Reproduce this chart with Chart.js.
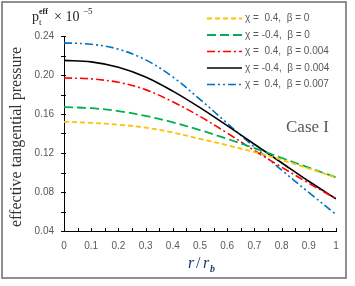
<!DOCTYPE html>
<html>
<head>
<meta charset="utf-8">
<script src="https://cdn.jsdelivr.net/npm/chart.js@4.4.1/dist/chart.umd.min.js"></script>
<style>
  html, body { margin: 0; padding: 0; background: #fff; }
  #wrap { width: 355px; height: 286px; position: relative; }
</style>
</head>
<body>
<div id="wrap"><canvas id="chart" width="355" height="286"></canvas></div>
<script>
// r / r_b sample points
const rValues = [0, 0.1, 0.2, 0.3, 0.4, 0.5, 0.6, 0.7, 0.8, 0.9, 1]

// effective tangential pressure (x 10^-5)
const chiPos_b0 = [0.152, 0.151, 0.149, 0.146, 0.141, 0.1345, 0.128, 0.121, 0.113, 0.104, 0.095]
const chiNeg_b0 = [0.167, 0.166, 0.163, 0.158, 0.1515, 0.1435, 0.1345, 0.125, 0.115, 0.105, 0.095]
const chiPos_b004 = [0.197, 0.196, 0.1925, 0.185, 0.1725, 0.1575, 0.1405, 0.1225, 0.1055, 0.089, 0.073]
const chiNeg_b004 = [0.215, 0.2135, 0.208, 0.198, 0.1835, 0.1665, 0.148, 0.129, 0.110, 0.091, 0.073]
const chiPos_b007 = [0.233, 0.2315, 0.2265, 0.2155, 0.198, 0.175, 0.1505, 0.126, 0.1025, 0.0795, 0.057]

const seriesLabels = [
    'χ =  0.4,  β = 0',
    'χ = -0.4,  β = 0',
    'χ =  0.4,  β = 0.004',
    'χ = -0.4,  β = 0.004',
    'χ =  0.4,  β = 0.007'
]

const yTicks = [0.04, 0.08, 0.12, 0.16, 0.20, 0.24]
const xTicks = [0, 0.1, 0.2, 0.3, 0.4, 0.5, 0.6, 0.7, 0.8, 0.9, 1]

function toPoints(arr){
    return arr.map(function(v, i){ return {x: rValues[i], y: v} })
}

function makeSet(label, data, color, dash, width){
    return {
        label: label,
        data: toPoints(data),
        borderColor: color,
        backgroundColor: color,
        borderWidth: width,
        borderDash: dash,
        pointRadius: 0,
        fill: false,
        tension: 0.35
    }
}

// draws frame, titles, tick marks, legend and the "Case I" label
const decorPlugin = {
    id: 'decor',
    afterDraw(chart){
        const ctx = chart.ctx
        const xs = chart.scales.x
        const ys = chart.scales.y
        ctx.save()

        // outer frame
        ctx.strokeStyle = '#6b6b6b'
        ctx.lineWidth = 1.5
        ctx.strokeRect(2, 2, 344, 276)

        // tick marks
        ctx.strokeStyle = '#000'
        ctx.lineWidth = 1
        ctx.beginPath()
        for(let v = 0.04; v <= 0.2401; v += 0.02){
            const py = Math.round(ys.getPixelForValue(v)) + 0.5
            ctx.moveTo(xs.left - 3, py)
            ctx.lineTo(xs.left + 2, py)
        }
        for(let v = 0; v <= 1.0001; v += 0.05){
            const px = Math.round(xs.getPixelForValue(v)) + 0.5
            ctx.moveTo(px, ys.bottom - 3)
            ctx.lineTo(px, ys.bottom + 1)
        }
        ctx.stroke()

        // top title  p_t^eff x 10^-5
        ctx.fillStyle = '#222'
        ctx.textBaseline = 'alphabetic'
        ctx.textAlign = 'left'
        ctx.font = '14px "Liberation Serif"'
        ctx.fillText('p', 32, 21)
        ctx.font = '9px "Liberation Serif"'
        ctx.fillText('t', 39, 25)
        ctx.font = 'bold 8px "Liberation Serif"'
        ctx.fillText('eff', 39, 14)
        ctx.font = '14px "Liberation Serif"'
        ctx.fillText('× 10', 54, 21)
        ctx.font = '9px "Liberation Serif"'
        ctx.fillText('−5', 83, 14)

        // y axis title
        ctx.save()
        ctx.translate(21, 137)
        ctx.rotate(-Math.PI / 2)
        ctx.textAlign = 'center'
        ctx.fillStyle = '#333'
        ctx.font = '16px "Liberation Serif"'
        ctx.fillText('effective tangential pressure', 0, 0)
        ctx.restore()

        // x axis title  r / r_b
        ctx.fillStyle = '#1f3864'
        ctx.font = 'italic 16px "Liberation Serif"'
        ctx.fillText('r', 188, 268)
        ctx.font = '16px "Liberation Serif"'
        ctx.fillText('/', 196, 268)
        ctx.font = 'italic 16px "Liberation Serif"'
        ctx.fillText('r', 203, 268)
        ctx.font = 'italic bold 10px "Liberation Serif"'
        ctx.fillText('b', 210, 272)

        // Case I
        ctx.fillStyle = '#595959'
        ctx.font = '17px "Liberation Serif"'
        ctx.fillText('Case I', 286, 132)

        // legend
        const rows = [18.5, 35, 51.5, 68, 84.5]
        chart.data.datasets.forEach(function(ds, i){
            const y = rows[i]
            ctx.strokeStyle = ds.borderColor
            ctx.lineWidth = ds.borderWidth
            ctx.setLineDash(ds.borderDash)
            ctx.beginPath()
            ctx.moveTo(207, y)
            ctx.lineTo(242, y)
            ctx.stroke()
            ctx.setLineDash([])
            ctx.fillStyle = '#595959'
            ctx.font = '10px "Liberation Sans"'
            ctx.textBaseline = 'middle'
            ctx.fillText(ds.label, 245, y)
        })
        ctx.restore()
    }
}

const tickFont = { family: 'Liberation Sans', size: 10 }

new Chart(document.getElementById('chart'), {
    type: 'line',
    data: {
        datasets: [
            makeSet(seriesLabels[0], chiPos_b0, '#ffc000', [5, 3], 1.8),
            makeSet(seriesLabels[1], chiNeg_b0, '#00b050', [9, 4], 1.8),
            makeSet(seriesLabels[2], chiPos_b004, '#ff0000', [8, 3, 2, 3], 1.6),
            makeSet(seriesLabels[3], chiNeg_b004, '#000000', [], 1.6),
            makeSet(seriesLabels[4], chiPos_b007, '#0070c0', [8, 3, 2, 3, 2, 3], 1.6)
        ]
    },
    options: {
        responsive: false,
        animation: false,
        events: [],
        layout: { padding: { left: 0, right: 19, top: 36, bottom: 0 } },
        plugins: {
            legend: { display: false },
            tooltip: { enabled: false }
        },
        scales: {
            x: {
                type: 'linear',
                min: 0,
                max: 1,
                afterFit: function(scale){ scale.height = 55 },
                afterBuildTicks: function(scale){
                    scale.ticks = xTicks.map(function(v){ return {value: v} })
                },
                grid: { display: false, drawTicks: false },
                border: { display: true, color: '#000', width: 1 },
                ticks: {
                    autoSkip: false,
                    maxRotation: 0,
                    padding: 9,
                    color: '#595959',
                    font: tickFont,
                    callback: function(v){ return String(Math.round(v * 10) / 10) }
                }
            },
            y: {
                type: 'linear',
                min: 0.04,
                max: 0.24,
                afterFit: function(scale){ scale.width = 64 },
                afterBuildTicks: function(scale){
                    scale.ticks = yTicks.map(function(v){ return {value: v} })
                },
                grid: { display: false, drawTicks: false },
                border: { display: true, color: '#000', width: 1 },
                ticks: {
                    autoSkip: false,
                    padding: 10,
                    color: '#595959',
                    font: tickFont,
                    callback: function(v){ return v.toFixed(2) }
                }
            }
        }
    },
    plugins: [decorPlugin]
})
</script>
</body>
</html>
